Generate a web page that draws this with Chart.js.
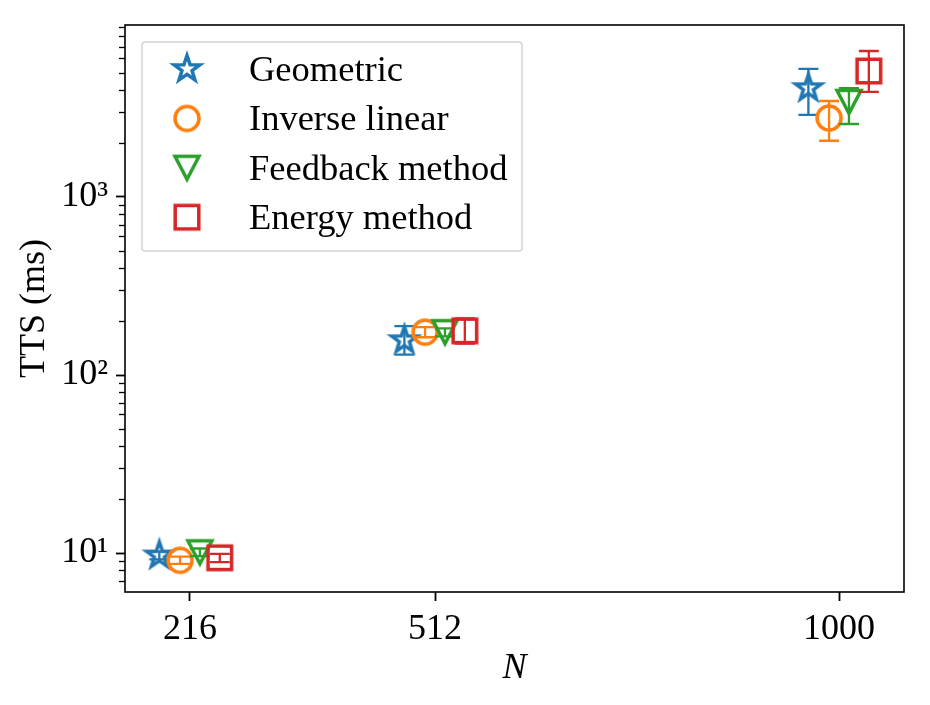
<!DOCTYPE html>
<html>
<head>
  <title>TTS vs N</title>
  <style>
    body { margin: 0; background: #fff; }
    canvas { display: block; }
  </style>
</head>
<body>
  <canvas id="ttsChart" width="930" height="705"></canvas>

  <script src="https://cdn.jsdelivr.net/npm/chart.js"></script>
  <script>
    // data
    const nValues = [216, 512, 1000];
    const seriesNames = ['Geometric', 'Inverse linear', 'Feedback method', 'Energy method'];

    const geometric = [9.7, 157, 4090];
    const geometricLow = [9.2, 130, 2890];
    const geometricHigh = [10.2, 188, 5240];

    const inverseLinear = [9.1, 174, 2780];
    const inverseLinearLow = [8.7, 163, 2070];
    const inverseLinearHigh = [9.55, 186, 3460];

    const feedback = [10.1, 174, 3420];
    const feedbackLow = [9.6, 165, 2570];
    const feedbackHigh = [10.6, 183, 4090];

    const energy = [9.4, 177, 5100];
    const energyLow = [8.9, 150, 3890];
    const energyHigh = [9.9, 208, 6610];

    const xTickValues = [216, 512, 1000];
    const xTickLabels = ['216', '512', '1000'];
    const yTickValues = [10, 100, 1000];
    const yTickLabels = ['10¹', '10²', '10³'];

    // side-by-side dodge so the markers don't sit on top of each other (in N units)
    const dodge = [-37, -12, 12, 36];
    const colors = ['#1f77b4', '#ff7f0e', '#2ca02c', '#d62728'];
    const shapes = ['star', 'circle', 'triangleDown', 'square'];

    const FONT = "'Liberation Serif', 'Times New Roman', serif";
    Chart.defaults.font.family = FONT;
    Chart.defaults.color = '#000';

    function makeMarker(shape, color) {
      const c = document.createElement('canvas');
      c.width = c.height = 44;
      const g = c.getContext('2d');
      g.translate(22, 22);
      g.strokeStyle = color;
      g.lineWidth = 3.5;
      g.lineJoin = 'miter';
      g.beginPath();
      if (shape === 'circle') {
        g.arc(0, 0, 12, 0, Math.PI * 2);
      } else if (shape === 'square') {
        g.rect(-11.8, -11.8, 23.6, 23.6);
      } else if (shape === 'triangleDown') {
        g.moveTo(-12, -11.5); g.lineTo(12, -11.5); g.lineTo(0, 11.5);
        g.closePath();
      } else {
        for (let k = 0; k < 10; k++) {
          const r = k % 2 ? 5.3 : 13.5;
          const a = -Math.PI / 2 + k * Math.PI / 5;
          g.lineTo(r * Math.cos(a), r * Math.sin(a));
        }
        g.closePath();
      }
      g.stroke();
      return c;
    }
    const markers = shapes.map((s, i) => makeMarker(s, colors[i]));

    const values = [geometric, inverseLinear, feedback, energy];
    const lows = [geometricLow, inverseLinearLow, feedbackLow, energyLow];
    const highs = [geometricHigh, inverseLinearHigh, feedbackHigh, energyHigh];

    const datasets = seriesNames.map((name, i) => ({
      label: name,
      data: nValues.map((n, j) => ({ x: n + dodge[i], y: values[i][j], yMin: lows[i][j], yMax: highs[i][j] })),
      pointStyle: markers[i],
      borderColor: colors[i],
      backgroundColor: colors[i],
      showLine: false,
      order: seriesNames.length - 1 - i
    }));

    // vertical error bars with caps, drawn just before each series' markers
    const errorBars = {
      id: 'errorBars',
      beforeDatasetDraw(chart, args) {
        const { ctx, scales: { x, y } } = chart;
        const ds = chart.data.datasets[args.index];
        ctx.save();
        ctx.strokeStyle = ds.borderColor;
        ctx.lineWidth = 2.3;
        ds.data.forEach(p => {
          const px = x.getPixelForValue(p.x);
          const lo = y.getPixelForValue(p.yMin);
          const hi = y.getPixelForValue(p.yMax);
          ctx.beginPath();
          ctx.moveTo(px, lo); ctx.lineTo(px, hi);
          ctx.moveTo(px - 10, lo); ctx.lineTo(px + 10, lo);
          ctx.moveTo(px - 10, hi); ctx.lineTo(px + 10, hi);
          ctx.stroke();
        });
        ctx.restore();
      }
    };

    // box frame + minor log ticks + legend box
    const frame = {
      id: 'frame',
      afterDraw(chart) {
        const { ctx, chartArea: a, scales: { y } } = chart;
        ctx.save();
        ctx.strokeStyle = '#000';
        ctx.lineWidth = 1.6;
        ctx.strokeRect(a.left, a.top, a.right - a.left, a.bottom - a.top);

        ctx.lineWidth = 1.3;
        for (let e = Math.floor(Math.log10(y.min)); e <= Math.ceil(Math.log10(y.max)); e++) {
          for (let m = 2; m <= 9; m++) {
            const v = m * Math.pow(10, e);
            if (v < y.min || v > y.max) continue;
            const py = Math.round(y.getPixelForValue(v)) + 0.5;
            ctx.beginPath();
            ctx.moveTo(a.left - 6, py); ctx.lineTo(a.left, py);
            ctx.stroke();
          }
        }

        // legend
        const bx = a.left + 17, by = a.top + 17, bw = 380, bh = 209;
        ctx.fillStyle = 'rgba(255,255,255,0.8)';
        ctx.strokeStyle = '#d4d4d4';
        ctx.lineWidth = 1.5;
        ctx.beginPath();
        ctx.roundRect(bx, by, bw, bh, 3);
        ctx.fill();
        ctx.stroke();
        ctx.font = '36.5px ' + FONT;
        ctx.fillStyle = '#000';
        ctx.textBaseline = 'alphabetic';
        chart.data.datasets.forEach((ds, i) => {
          const ry = by + 27 + i * 49.4;
          ctx.drawImage(ds.pointStyle, bx + 45 - 22, ry - 22);
          ctx.fillText(ds.label, bx + 107, ry + 12);
        });
        ctx.restore();
      }
    };

    new Chart(document.getElementById('ttsChart'), {
      type: 'scatter',
      data: { datasets },
      options: {
        responsive: false,
        animation: false,
        events: [],
        layout: { padding: { top: 25, right: 26, left: 0, bottom: 0 } },
        plugins: { legend: { display: false }, tooltip: { enabled: false } },
        scales: {
          x: {
            type: 'linear',
            min: 137.5,
            max: 1078.5,
            afterBuildTicks: axis => { axis.ticks = xTickValues.map(v => ({ value: v })); },
            afterFit: axis => { axis.height = 113; axis.paddingLeft = 0; axis.paddingRight = 0; },
            ticks: {
              font: { size: 36 },
              padding: 7,
              maxRotation: 0,
              autoSkip: false,
              callback: v => xTickLabels[xTickValues.indexOf(v)] ?? ''
            },
            grid: { drawOnChartArea: false, tickLength: 9, tickWidth: 1.8, tickColor: '#000' },
            border: { display: false },
            title: { display: true, text: 'N', font: { size: 36, style: 'italic' }, padding: { top: 0, bottom: 15 } }
          },
          y: {
            type: 'logarithmic',
            min: 6.04,
            max: 9250,
            afterBuildTicks: axis => { axis.ticks = yTickValues.map(v => ({ value: v })); },
            afterFit: axis => { axis.width = 125; axis.paddingTop = 0; axis.paddingBottom = 0; },
            ticks: {
              font: { size: 36 },
              padding: 8,
              autoSkip: false,
              callback: v => yTickLabels[yTickValues.indexOf(v)] ?? ''
            },
            grid: { drawOnChartArea: false, tickLength: 9, tickWidth: 1.8, tickColor: '#000' },
            border: { display: false },
            title: { display: true, text: 'TTS (ms)', font: { size: 36 }, padding: { top: 13, bottom: 0 } }
          }
        }
      },
      plugins: [errorBars, frame]
    });
  </script>
</body>
</html>
